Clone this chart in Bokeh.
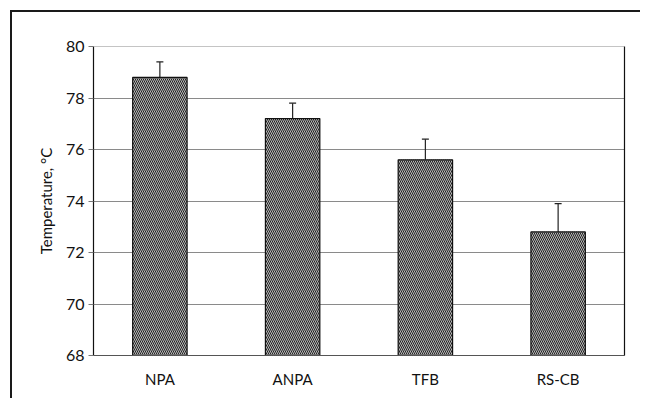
from bokeh.plotting import figure
from bokeh.models import ColumnDataSource, Whisker, Range1d, FixedTicker, TeeHead, Span, LinearAxis
from bokeh.embed import file_html
from bokeh.resources import INLINE

categories = ["NPA", "ANPA", "TFB", "RS-CB"]
temperature = [78.8, 77.2, 75.6, 72.8]
upper_err = [79.4, 77.8, 76.4, 73.9]
y_ticks = [68, 70, 72, 74, 76, 78, 80]

src = ColumnDataSource(dict(cat=categories, val=temperature, up=upper_err))

p = figure(x_range=categories, y_range=Range1d(68, 80), width=630, height=388,
           output_backend="svg", toolbar_location=None,
           min_border_left=81, min_border_top=34, min_border_right=18, min_border_bottom=45)
p.styles = {"margin-left": "10px", "margin-top": "10px",
            "border-left": "2px solid #1a1a1a", "border-top": "2px solid #1a1a1a"}

p.vbar(x="cat", top="val", bottom=68, width=0.41, source=src,
       fill_color="#b8b8b8", line_color="#111111", line_width=1.2,
       hatch_pattern="left_diagonal_line", hatch_color="#222222",
       hatch_scale=4, hatch_weight=1.0)

w = Whisker(base="cat", lower="val", upper="up", source=src, line_color="#222222",
            line_width=1.2,
            upper_head=TeeHead(size=7, line_color="#222222", line_width=1.2),
            lower_head=None)
p.add_layout(w)

p.outline_line_color = None
p.yaxis.ticker = FixedTicker(ticks=y_ticks)
p.ygrid.ticker = FixedTicker(ticks=y_ticks)
p.ygrid.grid_line_color = "#8a8a8a"
p.ygrid.grid_line_width = 1.2
p.xgrid.grid_line_color = None

p.yaxis.axis_label = "Temperature, °C"
p.yaxis.axis_label_text_font = "Lato"
p.yaxis.axis_label_text_font_style = "normal"
p.yaxis.axis_label_text_font_size = "15px"
p.yaxis.axis_label_text_color = "#111111"
p.yaxis.axis_label_standoff = 8
p.yaxis.major_label_text_font = "Lato"
p.yaxis.major_label_text_font_size = "16px"
p.yaxis.major_label_text_color = "#111111"
p.yaxis.axis_line_color = "#111111"
p.yaxis.axis_line_width = 1.2
p.yaxis.major_tick_out = 5
p.yaxis.major_tick_in = 0
p.yaxis.major_tick_line_color = "#777777"
p.yaxis.minor_tick_line_color = None
p.yaxis.major_label_standoff = 4

p.xaxis.major_label_text_font = "Lato"
p.xaxis.major_label_text_font_size = "15px"
p.xaxis.major_label_text_color = "#111111"
p.xaxis.axis_line_color = "#555555"
p.xaxis.axis_line_width = 1.2
p.xaxis.major_tick_line_color = None
p.xaxis.major_label_standoff = 8

p.add_layout(Span(location=80, dimension="width", line_color="#8a8a8a", line_width=1.2))

ra = LinearAxis(ticker=FixedTicker(ticks=[]), axis_line_color="#111111", axis_line_width=1.2,
                major_label_text_font_size="0px", major_tick_line_color=None,
                minor_tick_line_color=None)
p.add_layout(ra, "right")

open("out.html", "w").write(file_html(p, INLINE))
